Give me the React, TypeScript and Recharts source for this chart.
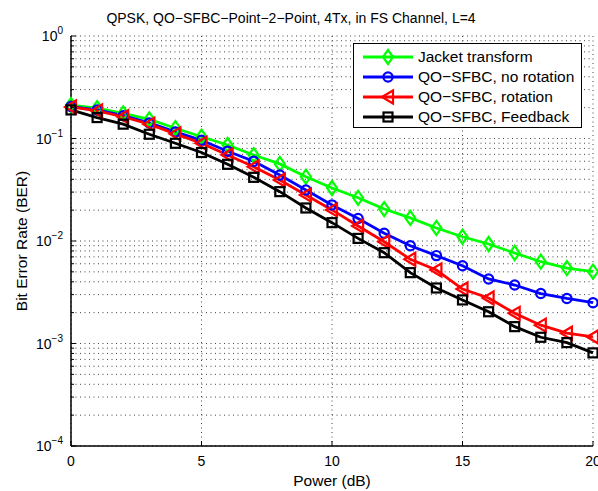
import React from 'react';
import { LineChart, Line, XAxis, YAxis, CartesianGrid, Legend } from 'recharts';

const powerDb = [0, 1, 2, 3, 4, 5, 6, 7, 8, 9, 10, 11, 12, 13, 14, 15, 16, 17, 18, 19, 20];
const jacketBer = [0.212, 0.198, 0.176, 0.154, 0.126, 0.104, 0.0864, 0.069, 0.0565, 0.0424, 0.0329, 0.0264, 0.0205, 0.0168, 0.0134, 0.011, 0.00935, 0.00764, 0.00628, 0.00545, 0.00502];
const noRotationBer = [0.205, 0.19, 0.167, 0.142, 0.116, 0.096, 0.075, 0.06, 0.044, 0.0315, 0.0225, 0.0166, 0.0119, 0.009, 0.0072, 0.00574, 0.00426, 0.00372, 0.00307, 0.00275, 0.0025];
const rotationBer = [0.203, 0.186, 0.163, 0.138, 0.111, 0.0898, 0.069, 0.053, 0.0394, 0.0281, 0.0201, 0.014, 0.00984, 0.00663, 0.00521, 0.0034, 0.00278, 0.00197, 0.00151, 0.00126, 0.00116];
const feedbackBer = [0.19, 0.16, 0.138, 0.11, 0.0898, 0.073, 0.056, 0.0418, 0.0303, 0.021, 0.0151, 0.0106, 0.00769, 0.00491, 0.00348, 0.00266, 0.00204, 0.00146, 0.00115, 0.00102, 0.00081];

const xTicks = [0, 5, 10, 15, 20];
const yMajorTicks = [1e-4, 1e-3, 1e-2, 1e-1, 1];
const yMinorMultipliers = [2, 3, 4, 5, 6, 7, 8, 9];
const titleText = 'QPSK, QO\u2212SFBC\u2212Point\u22122\u2212Point, 4Tx, in FS Channel, L=4';
const xLabelText = 'Power (dB)';
const yLabelText = 'Bit Error Rate (BER)';

const seriesNames = ['Jacket transform', 'QO\u2212SFBC, no rotation', 'QO\u2212SFBC, rotation', 'QO\u2212SFBC, Feedback'];
const seriesColors = ['#00ff00', '#0000ff', '#ff0000', '#000000'];
const seriesMarkers = ['diamond', 'circle', 'triangleLeft', 'square'];
const seriesKeys = ['jacket', 'noRotation', 'rotation', 'feedback'];
const seriesValues = [jacketBer, noRotationBer, rotationBer, feedbackBer];

const FONT = '"Liberation Sans", Arial, Helvetica, sans-serif';

const data = powerDb.map((p, i) => {
  const row: any = { power: p };
  seriesKeys.forEach((k, s) => { row[k] = seriesValues[s][i]; });
  return row;
});

const yAllTicks: number[] = [];
yMajorTicks.forEach((m, i) => {
  yAllTicks.push(m);
  if (i < yMajorTicks.length - 1) yMinorMultipliers.forEach((k) => yAllTicks.push(m * k));
});

const isMajor = (v: number) => yMajorTicks.some((m) => Math.abs(v / m - 1) < 1e-9);

function renderMarker(shape: string, cx: number, cy: number, color: string, key?: any) {
  const common = { fill: 'none', stroke: color, strokeWidth: 2.2 };
  if (shape === 'diamond') {
    return <polygon key={key} points={`${cx},${cy - 7} ${cx + 5},${cy} ${cx},${cy + 7} ${cx - 5},${cy}`} {...common} />;
  }
  if (shape === 'circle') {
    return <circle key={key} cx={cx} cy={cy} r={4.6} {...common} />;
  }
  if (shape === 'triangleLeft') {
    return <polygon key={key} points={`${cx - 6},${cy} ${cx + 5},${cy - 6.5} ${cx + 5},${cy + 6.5}`} {...common} />;
  }
  return <rect key={key} x={cx - 4.5} y={cy - 4.5} width={9} height={9} {...common} />;
}

const LeftYTick = (props: any) => {
  const { x, y, payload } = props;
  const v = payload.value;
  const major = isMajor(v);
  const len = major ? 5 : 3;
  const exp = Math.round(Math.log10(v));
  return (
    <g>
      <line x1={x} x2={x + len} y1={y} y2={y} stroke="#000" strokeWidth={1} />
      {major && (
        <text x={x - 8} y={y + 5} textAnchor="end" fontFamily={FONT} fontSize={14} fill="#000">
          <tspan>10</tspan>
          <tspan dy={-7} fontSize={10}>{exp < 0 ? `\u2212${-exp}` : `${exp}`}</tspan>
        </text>
      )}
    </g>
  );
};

const RightYTick = (props: any) => {
  const { x, y, payload } = props;
  const len = isMajor(payload.value) ? 5 : 3;
  return <line x1={x} x2={x - len} y1={y} y2={y} stroke="#000" strokeWidth={1} />;
};

const BottomXTick = (props: any) => {
  const { x, y, payload } = props;
  return (
    <g>
      <line x1={x} x2={x} y1={y} y2={y - 5} stroke="#000" strokeWidth={1} />
      <text x={x} y={y + 20} textAnchor="middle" fontFamily={FONT} fontSize={14} fill="#000">{payload.value}</text>
    </g>
  );
};

const TopXTick = (props: any) => {
  const { x, y } = props;
  return <line x1={x} x2={x} y1={y} y2={y + 5} stroke="#000" strokeWidth={1} />;
};

const LegendBox = () => (
  <div style={{ border: '1px solid #000', background: '#fff', boxSizing: 'border-box', width: 229, height: 85, paddingTop: 3, fontFamily: FONT, fontSize: 15.5, color: '#000' }}>
    {seriesNames.map((name, i) => (
      <div key={name} style={{ display: 'flex', alignItems: 'center', height: 20 }}>
        <svg width={64} height={20} style={{ flex: 'none' }}>
          <line x1={9} x2={59} y1={10} y2={10} stroke={seriesColors[i]} strokeWidth={2.8} />
          {renderMarker(seriesMarkers[i], 34, 10, seriesColors[i])}
        </svg>
        <span style={{ whiteSpace: 'nowrap', lineHeight: '20px' }}>{name}</span>
      </div>
    ))}
  </div>
);

export default function App() {
  return (
    <div style={{ position: 'absolute', left: 0, top: 0, width: 598, height: 491, background: '#fff' }}>
      <div style={{ position: 'absolute', left: 0, top: 9, width: 582, textAlign: 'center', fontFamily: FONT, fontSize: 14, lineHeight: '18px', color: '#000', whiteSpace: 'nowrap' }}>
        {titleText}
      </div>
      <LineChart width={598} height={491} data={data} margin={{ top: 36, right: 5, bottom: 0, left: 0 }}>
        <CartesianGrid stroke="#444" strokeDasharray="1 3.5" strokeWidth={1} />
        <XAxis
          dataKey="power"
          type="number"
          domain={[0, 20]}
          ticks={xTicks}
          interval={0}
          height={45}
          tickSize={0}
          tickMargin={0}
          tickLine={false}
          axisLine={{ stroke: '#000', strokeWidth: 1.5 }}
          tick={<BottomXTick />}
          label={{ value: xLabelText, position: 'insideBottom', offset: 5, style: { fontFamily: FONT, fontSize: 15.5, fill: '#000' } }}
        />
        <XAxis
          xAxisId="top"
          orientation="top"
          type="number"
          domain={[0, 20]}
          ticks={xTicks}
          interval={0}
          height={0}
          tickSize={0}
          tickMargin={0}
          tickLine={false}
          axisLine={{ stroke: '#000', strokeWidth: 1.5 }}
          tick={<TopXTick />}
        />
        <YAxis
          scale="log"
          type="number"
          domain={[1e-4, 1]}
          ticks={yAllTicks}
          interval={0}
          width={71}
          tickSize={0}
          tickMargin={0}
          tickLine={false}
          allowDataOverflow
          axisLine={{ stroke: '#000', strokeWidth: 1.5 }}
          tick={<LeftYTick />}
          label={{ value: yLabelText, angle: -90, position: 'insideLeft', offset: 21, style: { textAnchor: 'middle', fontFamily: FONT, fontSize: 15.5, fill: '#000' } }}
        />
        <YAxis
          yAxisId="right"
          orientation="right"
          scale="log"
          type="number"
          domain={[1e-4, 1]}
          ticks={yAllTicks}
          interval={0}
          width={0}
          tickSize={0}
          tickMargin={0}
          tickLine={false}
          allowDataOverflow
          axisLine={{ stroke: '#000', strokeWidth: 1.5 }}
          tick={<RightYTick />}
        />
        {seriesKeys.map((k, i) => (
          <Line
            key={k}
            dataKey={k}
            name={seriesNames[i]}
            stroke={seriesColors[i]}
            strokeWidth={2.8}
            isAnimationActive={false}
            dot={(p: any) => renderMarker(seriesMarkers[i], p.cx, p.cy, seriesColors[i], `${k}-${p.index}`)}
            activeDot={false}
          />
        ))}
        <Legend
          layout="vertical"
          align="center"
          verticalAlign="middle"
          content={<LegendBox />}
          wrapperStyle={{ position: 'absolute', left: 353, top: 43, width: 229, height: 85 }}
        />
      </LineChart>
    </div>
  );
}
